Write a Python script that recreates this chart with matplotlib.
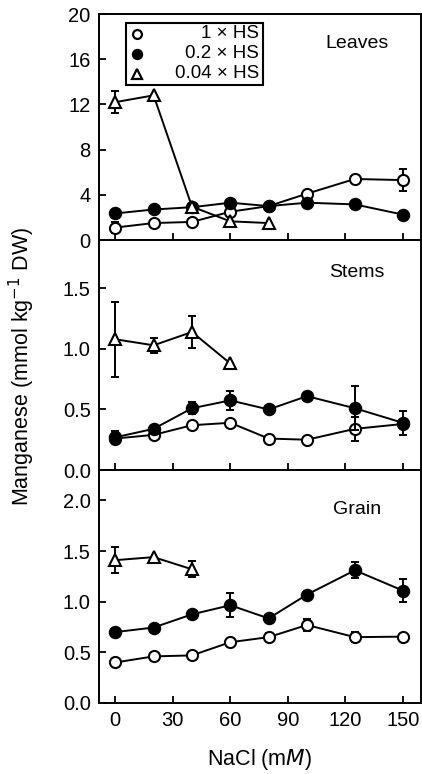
import numpy as np
import matplotlib
matplotlib.use("Agg")
import matplotlib.pyplot as plt
from matplotlib.patches import Rectangle

plt.rcParams["font.family"] = ["Liberation Sans", "DejaVu Sans"]

nacl = [0, 20, 40, 60, 80, 100, 125, 150]
nacl_low = [0, 20, 40, 60, 80]

# Leaves
leaves_1hs = [1.1, 1.5, 1.6, 2.5, 3.0, 4.1, 5.4, 5.3]
leaves_1hs_err = [0.5, 0, 0, 0, 0, 0, 0, 0.95]
leaves_02hs = [2.35, 2.7, 2.9, 3.3, 3.0, 3.3, 3.15, 2.25]
leaves_02hs_err = [0, 0, 0, 0, 0, 0, 0, 0]
leaves_004hs = [12.2, 12.8, 2.95, 1.65, 1.5]
leaves_004hs_err = [1.0, 0, 0, 0, 0]

# Stems
stems_1hs = [0.26, 0.29, 0.37, 0.39, 0.26, 0.25, 0.34, 0.38]
stems_1hs_err = [0, 0, 0, 0, 0, 0, 0.1, 0]
stems_02hs = [0.27, 0.34, 0.51, 0.575, 0.50, 0.61, 0.51, 0.39]
stems_02hs_err = [0.05, 0.02, 0.05, 0.08, 0, 0, 0.18, 0.1]
stems_004hs = [1.08, 1.03, 1.14, 0.88]
stems_004hs_err = [0.31, 0.06, 0.13, 0]

# Grain
grain_1hs = [0.40, 0.46, 0.47, 0.60, 0.65, 0.77, 0.65, 0.655]
grain_1hs_err = [0, 0, 0, 0, 0.04, 0.06, 0.05, 0]
grain_02hs = [0.70, 0.745, 0.875, 0.965, 0.835, 1.07, 1.31, 1.11]
grain_02hs_err = [0, 0, 0.02, 0.12, 0, 0, 0.08, 0.11]
grain_004hs = [1.41, 1.44, 1.32]
grain_004hs_err = [0.13, 0, 0.08]

panels = [
    ("Leaves", (0, 20), [0, 4, 8, 12, 16, 20], "%d",
     (leaves_1hs, leaves_1hs_err), (leaves_02hs, leaves_02hs_err), (leaves_004hs, leaves_004hs_err)),
    ("Stems", (0, 1.9), [0.0, 0.5, 1.0, 1.5], "%.1f",
     (stems_1hs, stems_1hs_err), (stems_02hs, stems_02hs_err), (stems_004hs, stems_004hs_err)),
    ("Grain", (0, 2.3), [0.0, 0.5, 1.0, 1.5, 2.0], "%.1f",
     (grain_1hs, grain_1hs_err), (grain_02hs, grain_02hs_err), (grain_004hs, grain_004hs_err)),
]

W, H = 422, 774
fig = plt.figure(figsize=(W / 100, H / 100), dpi=100)
left, right = 99 / W, 421 / W
edges = [14, 240, 470, 703]

styles = [
    dict(marker="o", mfc="white", mec="black", ms=8, zorder=3),
    dict(marker="o", mfc="black", mec="black", ms=8.2, zorder=4),
    dict(marker="^", mfc="white", mec="black", ms=9, zorder=5),
]
labels = ["1 \u00d7 HS", "0.2 \u00d7 HS", "0.04 \u00d7 HS"]
label_y = [0.87, 0.86, 0.83]

for i, (name, ylim, yticks, fmt, s1, s2, s3) in enumerate(panels):
    top, bot = 1 - edges[i] / H, 1 - edges[i + 1] / H
    ax = fig.add_axes([left, bot, right - left, top - bot])
    for (vals, errs), xs, st in zip([s1, s2, s3], [nacl, nacl, nacl_low], styles):
        x = np.array(xs[:len(vals)], dtype=float)
        y = np.array(vals, dtype=float)
        e = np.array(errs, dtype=float)
        m = e > 0
        ax.errorbar(x[m], y[m], yerr=e[m], fmt="none", ecolor="black",
                    elinewidth=1.4, capsize=3, capthick=1.4, zorder=st["zorder"] - 0.5)
        ax.plot(x, y, color="black", lw=1.4, mew=1.5, **st)
    ax.set_xlim(-8.5, 159.5)
    ax.set_ylim(*ylim)
    ax.set_yticks(yticks)
    ax.yaxis.set_major_formatter(matplotlib.ticker.FormatStrFormatter(fmt))
    ax.set_xticks([0, 30, 60, 90, 120, 150])
    ax.tick_params(direction="in", length=5, width=1.3, labelsize=14.5,
                   top=False, right=False, pad=6)
    if i < 2:
        ax.tick_params(labelbottom=False)
    for sp in ax.spines.values():
        sp.set_linewidth(1.4)
    ax.text(0.80, label_y[i], name, transform=ax.transAxes,
            ha="center", va="center", fontsize=14)

    if i == 0:
        # legend box
        bx0, bx1 = (126 - 99) / (421 - 99), (263 - 99) / (421 - 99)
        by1, by0 = 1 - (23 - 14) / 226, 1 - (85 - 14) / 226
        ax.add_patch(Rectangle((bx0, by0), bx1 - bx0, by1 - by0, transform=ax.transAxes,
                               fill=True, fc="white", ec="black", lw=1.5, zorder=10))
        for k, (lab, st) in enumerate(zip(labels, styles)):
            yy = by1 - (by1 - by0) * (k + 0.55) / 3.1
            sst = dict(st)
            sst["zorder"] = 11
            sst["ms"] = st["ms"] * 0.8
            ax.plot([bx0 + 0.035], [yy], transform=ax.transAxes, ls="none",
                    color="black", mew=1.6, clip_on=False, **sst)
            ax.text(bx1 - 0.012, yy, lab, transform=ax.transAxes, ha="right",
                    va="center", fontsize=13.5, zorder=12)

fig.text(22 / W, 1 - 366 / H, "Manganese (mmol kg$^{-1}$ DW)", rotation=90,
         ha="center", va="center", fontsize=15.5)
fig.text((left + right) / 2, 1 - 759 / H, "NaCl (m$\\it{M}$)", ha="center",
         va="center", fontsize=15.5)

fig.savefig("out.png", dpi=100)
